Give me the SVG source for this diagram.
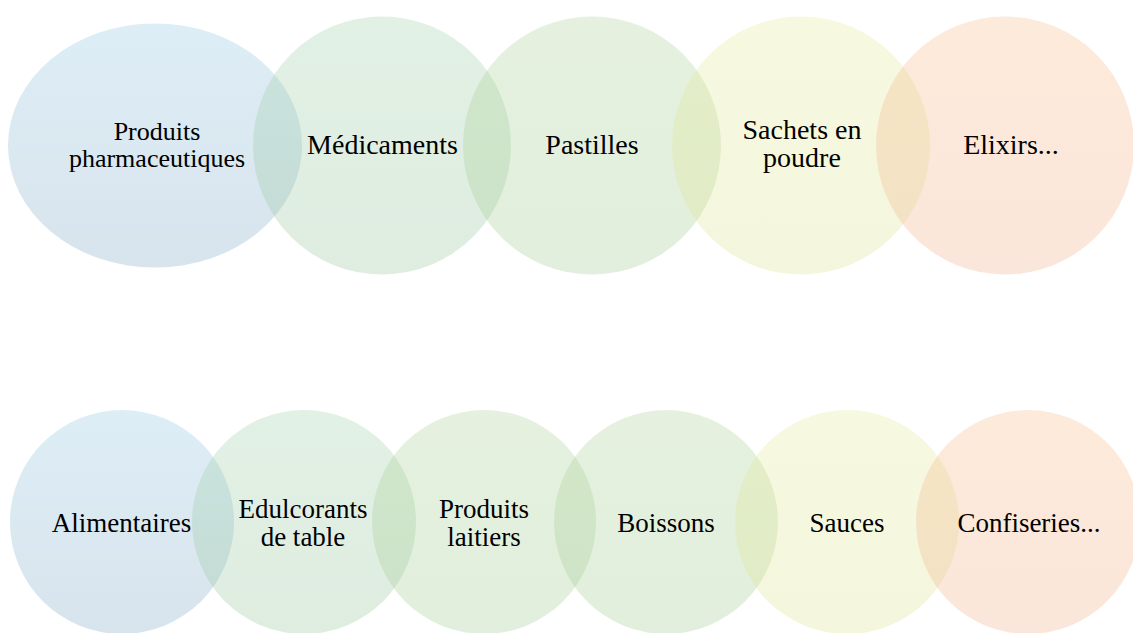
<svg xmlns="http://www.w3.org/2000/svg" width="1133" height="633" viewBox="0 0 1133 633">
<defs>
<linearGradient id="gBlue" x1="0" y1="0" x2="0" y2="1"><stop offset="0" stop-color="#8fc5e0"/><stop offset="1" stop-color="#7fa5c2"/></linearGradient>
<linearGradient id="gTeal" x1="0" y1="0" x2="0" y2="1"><stop offset="0" stop-color="#9fcfa8"/><stop offset="1" stop-color="#95c39c"/></linearGradient>
<linearGradient id="gGreen" x1="0" y1="0" x2="0" y2="1"><stop offset="0" stop-color="#aad193"/><stop offset="1" stop-color="#9fc990"/></linearGradient>
<linearGradient id="gYellow" x1="0" y1="0" x2="0" y2="1"><stop offset="0" stop-color="#e2ea98"/><stop offset="1" stop-color="#d9e290"/></linearGradient>
<linearGradient id="gOrange" x1="0" y1="0" x2="0" y2="1"><stop offset="0" stop-color="#f8ba85"/><stop offset="1" stop-color="#eeae86"/></linearGradient>
</defs>
<style>
.c{fill-opacity:0.3}
.t{font-family:"Liberation Serif","Times New Roman",serif;font-size:27px;fill:#000;text-anchor:middle}
</style>
<rect width="1133" height="633" fill="#ffffff"/>
<g id="top-row">
<g id="n-pharma"><ellipse class="c" cx="155" cy="145.5" rx="147" ry="122" fill="url(#gBlue)"/><text class="t" x="157" style="font-size:26px"><tspan x="157" y="140">Produits</tspan><tspan x="157" y="167">pharmaceutiques</tspan></text></g>
<g id="n-medic"><circle class="c" cx="382" cy="145.5" r="129" fill="url(#gTeal)"/><text class="t" x="382.5" y="154" style="font-size:28px">Médicaments</text></g>
<g id="n-pastilles"><circle class="c" cx="592" cy="145.5" r="129" fill="url(#gGreen)"/><text class="t" x="592" y="154" style="font-size:28px">Pastilles</text></g>
<g id="n-sachets"><circle class="c" cx="801" cy="145.5" r="129" fill="url(#gYellow)"/><text class="t" x="802" style="font-size:28px"><tspan x="802" y="139">Sachets en</tspan><tspan x="802" y="167">poudre</tspan></text></g>
<g id="n-elixirs"><circle class="c" cx="1005" cy="145.5" r="129" fill="url(#gOrange)"/><text class="t" x="1011" y="154" style="font-size:28px">Elixirs...</text></g>
</g>
<g id="bottom-row">
<g id="n-alim"><circle class="c" cx="122" cy="522" r="112" fill="url(#gBlue)"/><text class="t" x="121.5" y="532">Alimentaires</text></g>
<g id="n-edul"><circle class="c" cx="304" cy="522" r="112" fill="url(#gTeal)"/><text class="t" x="303"><tspan x="303" y="518">Edulcorants</tspan><tspan x="303" y="546">de table</tspan></text></g>
<g id="n-lait"><circle class="c" cx="484" cy="522" r="112" fill="url(#gGreen)"/><text class="t" x="484"><tspan x="484" y="518">Produits</tspan><tspan x="484" y="546">laitiers</tspan></text></g>
<g id="n-boiss"><circle class="c" cx="666" cy="522" r="112" fill="url(#gGreen)"/><text class="t" x="666" y="532">Boissons</text></g>
<g id="n-sauces"><circle class="c" cx="847" cy="522" r="112" fill="url(#gYellow)"/><text class="t" x="847" y="532">Sauces</text></g>
<g id="n-conf"><circle class="c" cx="1028" cy="522" r="112" fill="url(#gOrange)"/><text class="t" x="1029" y="532">Confiseries...</text></g>
</g>
<g id="connectors"></g>
</svg>
